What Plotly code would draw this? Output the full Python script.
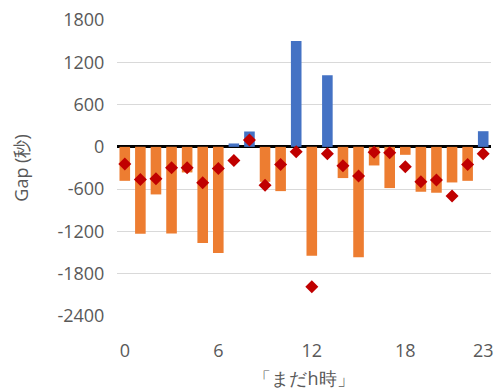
import plotly.graph_objects as go

# Hourly data: "まだh時" hour vs gap in seconds
hours = list(range(24))
gap_bars = [-482, -1233, -675, -1228, -363, -1365, -1506, 48, 218, -496, -628, 1502,
            -1544, 1016, -443, -1567, -264, -585, -113, -637, -651, -505, -482, 222]
gap_points = [-245, -462, -453, -297, -297, -510, -306, -193, 99, -543, -250, -71,
              -1984, -99, -269, -415, -75, -85, -283, -496, -472, -698, -250, -99]
y_ticks = [-2400, -1800, -1200, -600, 0, 600, 1200, 1800]
x_ticks = [0, 6, 12, 18, 23]

BLUE = "#4472C4"
ORANGE = "#ED7D31"
RED = "#C00000"
TEXT = "#595959"
FONT = "Open Sans"

bar_colors = [BLUE if v >= 0 else ORANGE for v in gap_bars]

fig = go.Figure()
fig.add_trace(go.Bar(
    x=hours, y=gap_bars, marker=dict(color=bar_colors, line=dict(width=0)),
    width=0.68, showlegend=False,
))
fig.add_trace(go.Scatter(
    x=hours, y=gap_points, mode="markers",
    marker=dict(symbol="diamond", size=10, color=RED, line=dict(width=0)),
    showlegend=False,
))

fig.update_layout(
    width=494, height=390,
    margin=dict(l=117, r=1, t=20, b=74),
    paper_bgcolor="white", plot_bgcolor="white",
    font=dict(family=FONT, size=18, color=TEXT),
    bargap=0.32,
)
fig.update_xaxes(
    range=[-0.5, 23.5], tickvals=x_ticks, ticktext=[str(t) for t in x_ticks],
    showgrid=False, zeroline=False, showline=False,
    ticks="outside", ticklen=18, tickcolor="rgba(0,0,0,0)",
    ticklabeloverflow="allow",
    tickfont=dict(family=FONT, size=18, color=TEXT),
    title=dict(text="「まだh時」", font=dict(family=FONT, size=18, color=TEXT), standoff=13),
)
fig.update_yaxes(
    range=[-2400, 1800], tickvals=y_ticks, ticktext=[str(t) for t in y_ticks],
    showgrid=True, gridcolor="#D9D9D9", gridwidth=1,
    zeroline=True, zerolinecolor="black", zerolinewidth=3,
    showline=False, ticks="outside", ticklen=8, tickcolor="rgba(0,0,0,0)",
    tickfont=dict(family=FONT, size=18, color=TEXT),
    title=dict(text="Gap (秒)", font=dict(family=FONT, size=18, color=TEXT), standoff=24),
)

fig.write_html("out.html")
